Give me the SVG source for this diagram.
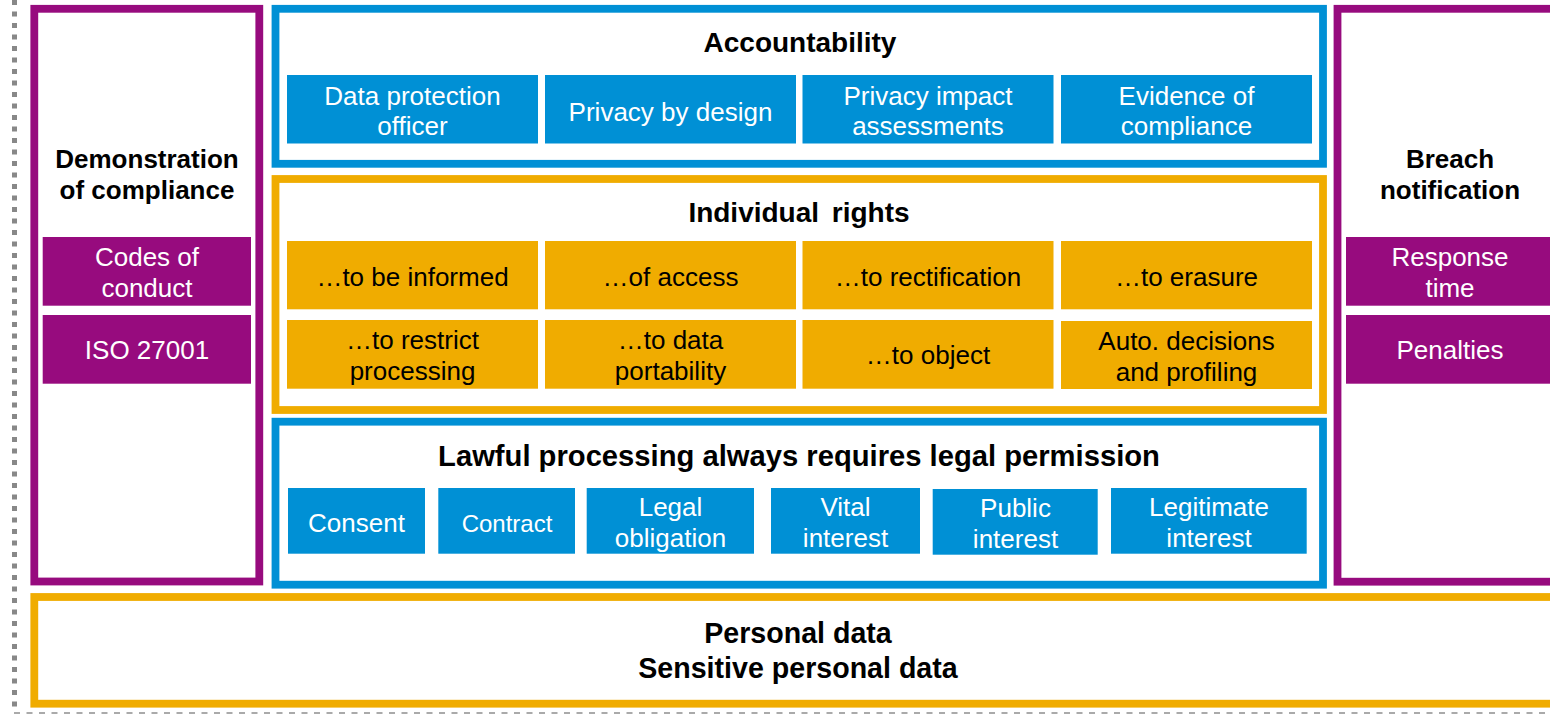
<svg xmlns="http://www.w3.org/2000/svg" width="1550" height="714" viewBox="0 0 1550 714">
<style>
.frame{fill:#fff;stroke-width:7.8}
.pu{stroke:#970B7E}.bl{stroke:#0090D5}.or{stroke:#F0AC00}
.fpu{fill:#970B7E}.fbl{fill:#0090D5}.for{fill:#F0AC00}
text{font-family:"Liberation Sans",Arial,sans-serif;text-anchor:middle}
.t{font-weight:bold;font-size:26px;fill:#000}
.h{font-weight:bold;font-size:28px;fill:#000}
.tl{font-weight:bold;font-size:29.2px;fill:#000}
.pd{font-weight:bold;font-size:28.6px;fill:#000}
.w{font-size:26px;fill:#fff}
.k{font-size:26px;fill:#000}
</style>
<rect width="1550" height="714" fill="#fff"/>
<g id="borders">
<line x1="14.5" y1="0" x2="14.5" y2="708" stroke="#888" stroke-width="5" stroke-dasharray="5 6.5"/>
<line x1="14" y1="713" x2="1550" y2="713" stroke="#aaa" stroke-width="2" stroke-dasharray="6 6.5"/>
</g>
<g id="demonstration">
<rect class="frame pu" x="34.3" y="8.8" width="225" height="572.7"/>
<text class="t" x="147" y="168">Demonstration</text>
<text class="t" x="147" y="199">of compliance</text>
<rect class="fpu" x="42.7" y="237" width="208.3" height="68.7"/>
<text class="w" x="147" y="265.5">Codes of</text>
<text class="w" x="147" y="297">conduct</text>
<rect class="fpu" x="42.7" y="315" width="208.3" height="68.7"/>
<text class="w" x="147" y="359">ISO 27001</text>
</g>
<g id="breach">
<rect class="frame pu" x="1337.5" y="8.8" width="300" height="572.9"/>
<text class="t" x="1450" y="168">Breach</text>
<text class="t" x="1450" y="199">notification</text>
<rect class="fpu" x="1346" y="237" width="220" height="68.7"/>
<text class="w" x="1450" y="265.5">Response</text>
<text class="w" x="1450" y="297">time</text>
<rect class="fpu" x="1346" y="315" width="220" height="68.7"/>
<text class="w" x="1450" y="359">Penalties</text>
</g>
<g id="accountability">
<rect class="frame bl" x="275.5" y="8.8" width="1047.5" height="155"/>
<text class="h" x="800" y="52">Accountability</text>
<rect class="fbl" x="287" y="75" width="251" height="68.5"/>
<text class="w" x="412.5" y="105">Data protection</text>
<text class="w" x="412.5" y="135">officer</text>
<rect class="fbl" x="545" y="75" width="251" height="68.5"/>
<text class="w" x="670.5" y="121">Privacy by design</text>
<rect class="fbl" x="802.5" y="75" width="251" height="68.5"/>
<text class="w" x="928" y="105">Privacy impact</text>
<text class="w" x="928" y="135">assessments</text>
<rect class="fbl" x="1061" y="75" width="251" height="68.5"/>
<text class="w" x="1186.5" y="105">Evidence of</text>
<text class="w" x="1186.5" y="135">compliance</text>
</g>
<g id="individual-rights">
<rect class="frame or" x="275.5" y="179" width="1047.5" height="231"/>
<text class="h" x="799" y="222" style="word-spacing:5px">Individual rights</text>
<rect class="for" x="287" y="241" width="251" height="68.3"/>
<text class="k" x="412.5" y="286">…to be informed</text>
<rect class="for" x="545" y="241" width="251" height="68.3"/>
<text class="k" x="670.5" y="286">…of access</text>
<rect class="for" x="802.5" y="241" width="251" height="68.3"/>
<text class="k" x="928" y="286">…to rectification</text>
<rect class="for" x="1061" y="241" width="251" height="68.3"/>
<text class="k" x="1186.5" y="286">…to erasure</text>
<rect class="for" x="287" y="320" width="251" height="68.7"/>
<text class="k" x="412.5" y="349">…to restrict</text>
<text class="k" x="412.5" y="380">processing</text>
<rect class="for" x="545" y="320" width="251" height="68.7"/>
<text class="k" x="670.5" y="349">…to data</text>
<text class="k" x="670.5" y="380">portability</text>
<rect class="for" x="802.5" y="320" width="251" height="68.7"/>
<text class="k" x="928" y="364">…to object</text>
<rect class="for" x="1061" y="321" width="251" height="68"/>
<text class="k" x="1186.5" y="350">Auto. decisions</text>
<text class="k" x="1186.5" y="381">and profiling</text>
</g>
<g id="lawful-processing">
<rect class="frame bl" x="275.5" y="421.7" width="1047.5" height="163"/>
<text class="tl" x="799" y="466">Lawful processing always requires legal permission</text>
<rect class="fbl" x="288" y="488" width="137" height="65.7"/>
<text class="w" x="356.5" y="532">Consent</text>
<rect class="fbl" x="438.3" y="488" width="136.7" height="65.7"/>
<text class="w" x="507" y="532" style="font-size:24px">Contract</text>
<rect class="fbl" x="586.7" y="488" width="167.3" height="65.7"/>
<text class="w" x="670.5" y="515.5">Legal</text>
<text class="w" x="670.5" y="547">obligation</text>
<rect class="fbl" x="771" y="488" width="149" height="65.7"/>
<text class="w" x="845.5" y="515.5">Vital</text>
<text class="w" x="845.5" y="547">interest</text>
<rect class="fbl" x="932.7" y="489" width="165" height="65.7"/>
<text class="w" x="1015.5" y="517">Public</text>
<text class="w" x="1015.5" y="548">interest</text>
<rect class="fbl" x="1111" y="488" width="195.7" height="65.7"/>
<text class="w" x="1209" y="515.5">Legitimate</text>
<text class="w" x="1209" y="547">interest</text>
</g>
<g id="personal-data">
<rect class="frame or" x="34.3" y="597" width="1600" height="106.7"/>
<text class="pd" x="798" y="643">Personal data</text>
<text class="pd" x="798" y="678">Sensitive personal data</text>
</g>
<g id="connectors"/>
</svg>
